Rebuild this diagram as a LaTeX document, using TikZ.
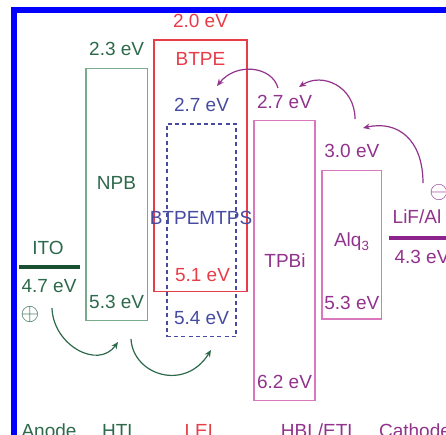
\documentclass[tikz,border=0pt]{standalone}
\usepackage{fontspec}
\setmainfont{Liberation Sans}
\usetikzlibrary{arrows.meta,positioning}

\definecolor{htlline}{RGB}{120,170,140}
\definecolor{htltext}{RGB}{45,105,75}
\definecolor{itoline}{RGB}{25,80,50}
\definecolor{lelred}{RGB}{232,60,72}
\definecolor{dopblue}{RGB}{70,75,160}
\definecolor{etlline}{RGB}{218,120,190}
\definecolor{etltext}{RGB}{145,50,140}
\definecolor{calline}{RGB}{140,35,140}

\begin{document}
\begin{tikzpicture}[
  x=0.5pt, y=-0.5pt,
  font=\fontsize{9.5}{11}\selectfont,
  lvl/.style={draw, line width=0.75pt, inner sep=0pt},
  lbl/.style={inner sep=1pt},
  charge/.style={inner sep=0pt, font=\fontsize{13}{13}\selectfont},
  hop/.style={-{Stealth[length=3.5pt,width=3pt]}, line width=0.6pt},
  elec/.style={line width=1.6pt}
]
  \useasboundingbox (0,0) rectangle (446,435);
  % frame
  \draw[blue, line width=2.75pt] (14,445) |- (450,10);

  % anode
  \node[lbl, htltext] (ito) at (48,248) {ITO};
  \draw[elec, itoline] (19,267) -- (80,267);
  \node[lbl, htltext] (itolvl) at (49,286) {4.7 eV};
  \node[charge, htltext] (hole) at (30,314) {$\oplus$};

  % HTL
  \node[lvl, draw=htlline, minimum width=30.7pt, minimum height=126pt] (npb) at (116.7,194.3) {};
  \node[lbl, htltext, above=4.6pt of npb] (npbL) {2.3 eV};
  \node[lbl, htltext] (npbname) at (116.5,183) {NPB};
  \node[lbl, htltext, above=5.2pt of npb.south] (npbH) {5.3 eV};

  % LEL
  \node[lvl, draw=lelred, minimum width=46.5pt, minimum height=125.8pt] (btpe) at (200.5,165.8) {};
  \node[lvl, dashed, dash pattern=on 2pt off 1.6pt, draw=dopblue, minimum width=34.5pt, minimum height=106.3pt] (mtps) at (201.5,230.3) {};
  \node[lbl, lelred, above=4.6pt of btpe] (btpeL) {2.0 eV};
  \node[lbl, lelred, below=5.6pt of btpe.north] (btpename) {BTPE};
  \node[lbl, lelred, above=4pt of btpe.south, xshift=1pt] (btpeH) {5.1 eV};
  \node[lbl, dopblue, above=4.6pt of mtps] (mtpsL) {2.7 eV};
  \node[lbl, dopblue] (mtpsname) at (201,218) {BTPEMTPS};
  \node[lbl, dopblue, above=5pt of mtps.south] (mtpsH) {5.4 eV};

  % HBL/ETL
  \node[lvl, draw=etlline, minimum width=30.5pt, minimum height=140pt] (tpbi) at (284.5,260.7) {};
  \node[lbl, etltext, above=4.5pt of tpbi] (tpbiL) {2.7 eV};
  \node[lbl, etltext] (tpbiname) at (285,261) {TPBi};
  \node[lbl, etltext, above=5pt of tpbi.south] (tpbiH) {6.2 eV};

  \node[lvl, draw=etlline, minimum width=29.8pt, minimum height=74.3pt] (alq) at (351.8,244.6) {};
  \node[lbl, etltext, above=4.6pt of alq] (alqL) {3.0 eV};
  \node[lbl, etltext] (alqname) at (352,242) {Alq\textsubscript{3}};
  \node[lbl, etltext, above=3.6pt of alq.south] (alqH) {5.3 eV};

  % cathode
  \node[charge, etltext] (elec) at (439,192) {$\ominus$};
  \node[lbl, etltext] (lif) at (417,217) {LiF/Al};
  \draw[elec, calline] (389,238) -- (452,238);
  \node[lbl, etltext] (liflvl) at (422,257) {4.3 eV};

  % layer names
  \node[lbl, htltext, anchor=base] (anode) at (49,437) {Anode};
  \node[lbl, htltext, anchor=base] (htl) at (120,437) {HTL};
  \node[lbl, lelred, anchor=base] (lel) at (201.5,437) {LEL};
  \node[lbl, etltext, anchor=base] (etl) at (319.5,437) {HBL/ETL};
  \node[lbl, etltext, anchor=base] (cathode) at (415,437) {Cathode};

  % hole hops
  \coordinate (h1) at (52,308);
  \coordinate (h2) at (118,342);
  \coordinate (h3) at (131,339);
  \coordinate (h4) at (211,350);
  \draw[hop, htltext] (h1) .. controls (53,345) and (98,370) .. (h2);
  \draw[hop, htltext] (h3) .. controls (133,375) and (185,392) .. (h4);

  % electron hops
  \coordinate (e1) at (423,183);
  \coordinate (e2) at (363,128);
  \coordinate (e3) at (355,119);
  \coordinate (e4) at (299,87);
  \coordinate (e5) at (278,88);
  \coordinate (e6) at (217,86);
  \draw[hop, etltext] (e1) .. controls (423,140) and (398,120) .. (e2);
  \draw[hop, etltext] (e3) .. controls (355,86) and (322,72) .. (e4);
  \draw[hop, etltext] (e5) .. controls (272,66) and (236,62) .. (e6);
\end{tikzpicture}
\end{document}
